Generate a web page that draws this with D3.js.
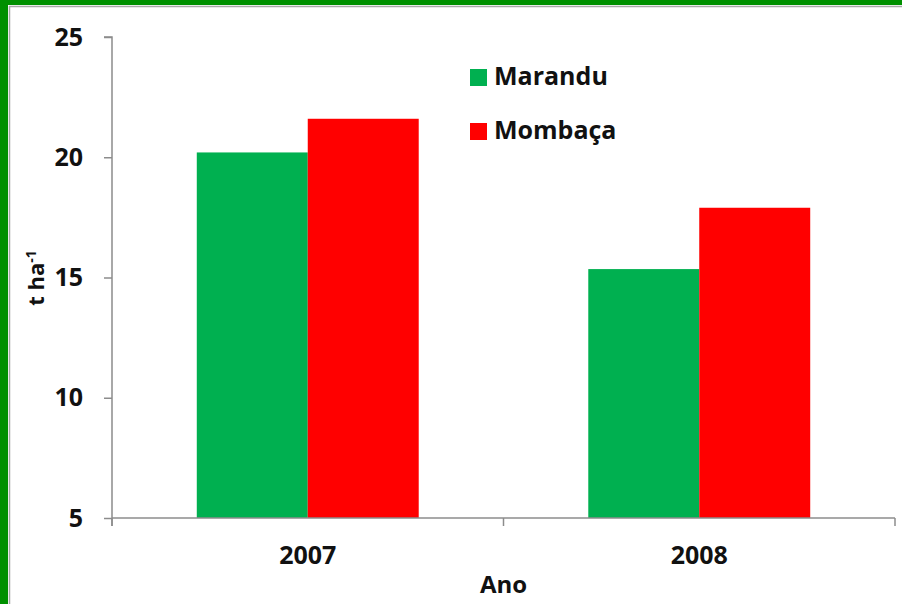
<!DOCTYPE html>
<html>
<head>
<meta charset="utf-8">
<script src="https://cdn.jsdelivr.net/npm/d3@7"></script>
<style>
  body { margin: 0; background: #ffffff; }
  text { font-family: "Open Sans", "Liberation Sans", sans-serif; font-weight: bold; fill: #111; }
</style>
</head>
<body>
<div id="display"></div>
<script>
// data
const years = ["2007", "2008"];
const series = ["Marandu", "Mombaça"];
const marandu = [20.2, 15.35];
const mombaca = [21.6, 17.9];
const colors = ["#00b050", "#ff0000"];
const yTicks = [5, 10, 15, 20, 25];

const svg = d3.select('#display')
    .append('svg')
    .attr('width', 902)
    .attr('height', 604);

// frame
svg.append('rect').attr('x', 0).attr('y', 0).attr('width', 902).attr('height', 5).attr('fill', '#009000');
svg.append('rect').attr('x', 0).attr('y', 0).attr('width', 8).attr('height', 604).attr('fill', '#009000');
svg.append('line').attr('x1', 9.5).attr('x2', 9.5).attr('y1', 6).attr('y2', 604).attr('stroke', '#a8a8a8').attr('stroke-width', 1.5);
svg.append('line').attr('x1', 9).attr('x2', 902).attr('y1', 6.5).attr('y2', 6.5).attr('stroke', '#a8a8a8').attr('stroke-width', 1.5);

const plotLeft = 112, plotRight = 895, plotTop = 37, plotBottom = 518;

const y = d3.scaleLinear().domain([5, 25]).range([plotBottom, plotTop]);
const x0 = d3.scaleBand().domain(years).range([plotLeft, plotRight]).paddingInner(0).paddingOuter(0);
const x1 = d3.scaleBand().domain(series).range([0, x0.bandwidth()]).paddingInner(0).paddingOuter(0.764);

const rows = years.map((yr, i) => ({year: yr, values: [marandu[i], mombaca[i]]}));

// bars
const groups = svg.selectAll('g.year')
    .data(rows)
    .enter().append('g')
    .attr('class', 'year')
    .attr('transform', d => `translate(${x0(d.year)},0)`);

groups.selectAll('rect')
    .data(d => d.values.map((v, k) => ({s: series[k], v: v, c: colors[k]})))
    .enter().append('rect')
    .attr('x', d => x1(d.s))
    .attr('y', d => y(d.v))
    .attr('width', x1.bandwidth())
    .attr('height', d => plotBottom - y(d.v))
    .attr('fill', d => d.c);

// y axis
const yAxis = svg.append('g')
    .attr('transform', `translate(${plotLeft},0)`)
    .call(d3.axisLeft(y).tickValues(yTicks).tickSize(8).tickPadding(21));
yAxis.selectAll('line, path').attr('stroke', '#8c8c8c').attr('stroke-width', 1.5);
yAxis.select('path').attr('d', `M-8,${plotTop}H0V${plotBottom + 8}`);
yAxis.selectAll('text')
    .style('font-size', '25px')
    .attr('fill', '#111');

// x axis
const xAxis = svg.append('g');
xAxis.append('line')
    .attr('x1', plotLeft).attr('x2', plotRight)
    .attr('y1', plotBottom).attr('y2', plotBottom)
    .attr('stroke', '#8c8c8c').attr('stroke-width', 1.5);
xAxis.selectAll('line.tick')
    .data(years.map(d => x0(d)).concat([plotRight]))
    .enter().append('line')
    .attr('class', 'tick')
    .attr('x1', d => d).attr('x2', d => d)
    .attr('y1', plotBottom).attr('y2', plotBottom + 8)
    .attr('stroke', '#8c8c8c').attr('stroke-width', 1.5);
xAxis.selectAll('text')
    .data(years)
    .enter().append('text')
    .attr('x', d => x0(d) + x0.bandwidth() / 2)
    .attr('y', 564)
    .attr('text-anchor', 'middle')
    .style('font-size', '25px')
    .text(d => d);

svg.append('text')
    .attr('x', (plotLeft + plotRight) / 2)
    .attr('y', 593)
    .attr('text-anchor', 'middle')
    .style('font-size', '24px')
    .text('Ano');

// y label
const yl = svg.append('text')
    .attr('transform', 'translate(44,278) rotate(-90)')
    .attr('text-anchor', 'middle')
    .style('font-size', '22px');
yl.append('tspan').text('t ha');
yl.append('tspan').attr('dy', -8).style('font-size', '14px').text('-1');

// legend
const legend = svg.selectAll('g.legend')
    .data(series)
    .enter().append('g')
    .attr('class', 'legend')
    .attr('transform', (d, i) => `translate(470,${69 + i * 54})`);
legend.append('rect')
    .attr('width', 17).attr('height', 17)
    .attr('fill', (d, i) => colors[i]);
legend.append('text')
    .attr('x', 24).attr('y', 16)
    .style('font-size', '25px')
    .text(d => d);
</script>
</body>
</html>
